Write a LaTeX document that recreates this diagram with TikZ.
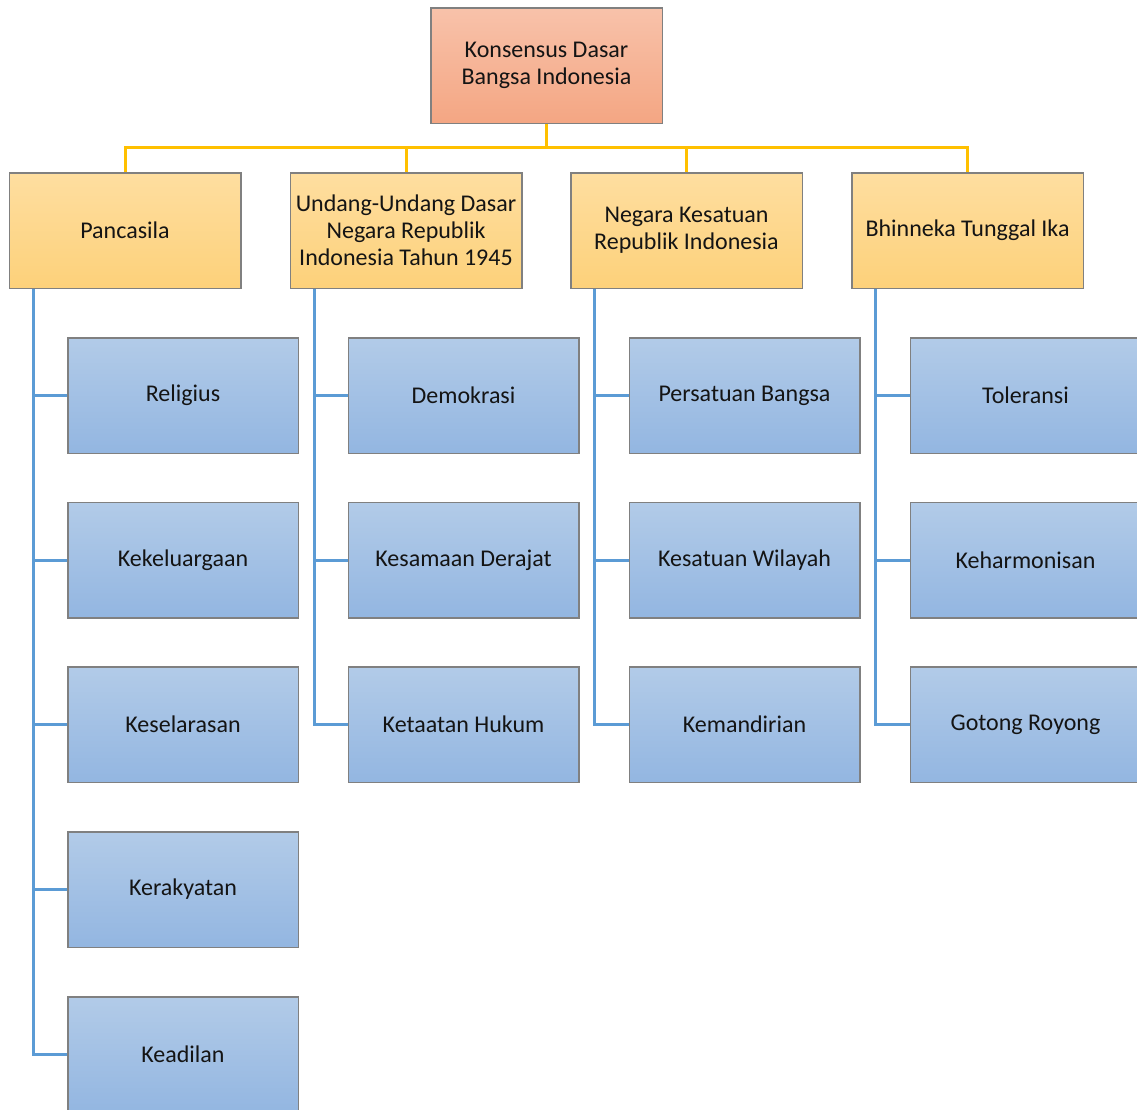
\documentclass[tikz,border=0pt]{standalone}
\usepackage{fontspec}
\setmainfont{Carlito}
\definecolor{rootT}{HTML}{F8C2AA}
\definecolor{rootB}{HTML}{F4A683}
\definecolor{yelT}{HTML}{FEDEA0}
\definecolor{yelB}{HTML}{FDD17A}
\definecolor{bluT}{HTML}{B2CBE8}
\definecolor{bluB}{HTML}{93B6E1}
\definecolor{yline}{HTML}{FFC000}
\definecolor{bline}{HTML}{5B9BD5}
\begin{document}
\begin{tikzpicture}[x=1pt,y=-1pt,
  box/.style={draw=black!50, line width=0.8pt, minimum width=231pt, minimum height=115pt,
    inner sep=2pt, align=center, font=\fontsize{24}{27}\selectfont, text=black!92},
  rootbox/.style={box, top color=rootT, bottom color=rootB},
  mainbox/.style={box, top color=yelT, bottom color=yelB},
  subbox/.style={box, minimum width=230pt, top color=bluT, bottom color=bluB},
  yconn/.style={draw=yline, line width=3pt},
  bconn/.style={draw=bline, line width=3pt}]
\useasboundingbox (0,0) rectangle (1137,1110);
\clip (0,0) rectangle (1137,1110);
\fill[white] (0,0) rectangle (1137,1110);

\coordinate (bus) at (546.5,148);

\node[rootbox] (root) at (546.5,65.5) {Konsensus Dasar\\Bangsa Indonesia};
\node[mainbox] (m1) at (125,230.5) {Pancasila};
\node[mainbox] (m2) at (406,230.5) {Undang-Undang Dasar\\Negara Republik\\Indonesia Tahun 1945};
\node[mainbox] (m3) at (686.5,230.5) {Negara Kesatuan\\Republik Indonesia};
\node[mainbox] (m4) at (967.5,230.5) {Bhinneka Tunggal Ika};

\node[subbox] (a1) at (183,395.5) {Religius};
\node[subbox] (a2) at (183,560) {Kekeluargaan};
\node[subbox] (a3) at (183,724.5) {Keselarasan};
\node[subbox] (a4) at (183,889.5) {Kerakyatan};
\node[subbox] (a5) at (183,1054.5) {Keadilan};

\node[subbox] (b1) at (463.5,395.5) {Demokrasi};
\node[subbox] (b2) at (463.5,560) {Kesamaan Derajat};
\node[subbox] (b3) at (463.5,724.5) {Ketaatan Hukum};

\node[subbox] (c1) at (744.5,395.5) {Persatuan Bangsa};
\node[subbox] (c2) at (744.5,560) {Kesatuan Wilayah};
\node[subbox] (c3) at (744.5,724.5) {Kemandirian};

\node[subbox] (d1) at (1025.5,395.5) {Toleransi};
\node[subbox] (d2) at (1025.5,560) {Keharmonisan};
\node[subbox] (d3) at (1025.5,724.5) {Gotong Royong};

% yellow connectors
\foreach \m in {m1,m2,m3,m4}{
  \draw[yconn] (root.south) |- (\m.north |- bus) -- (\m.north);
}
% blue connectors
\foreach \c in {a1,a2,a3,a4,a5}{ \draw[bconn] ([xshift=-92pt]m1.south) |- (\c.west); }
\foreach \c in {b1,b2,b3}{ \draw[bconn] ([xshift=-92pt]m2.south) |- (\c.west); }
\foreach \c in {c1,c2,c3}{ \draw[bconn] ([xshift=-92pt]m3.south) |- (\c.west); }
\foreach \c in {d1,d2,d3}{ \draw[bconn] ([xshift=-92pt]m4.south) |- (\c.west); }

% redraw borders on top of connector ends
\foreach \n in {root,m1,m2,m3,m4,a1,a2,a3,a4,a5,b1,b2,b3,c1,c2,c3,d1,d2,d3}{
  \draw[black!50, line width=0.8pt] (\n.north west) rectangle (\n.south east);
}
\end{tikzpicture}
\end{document}
